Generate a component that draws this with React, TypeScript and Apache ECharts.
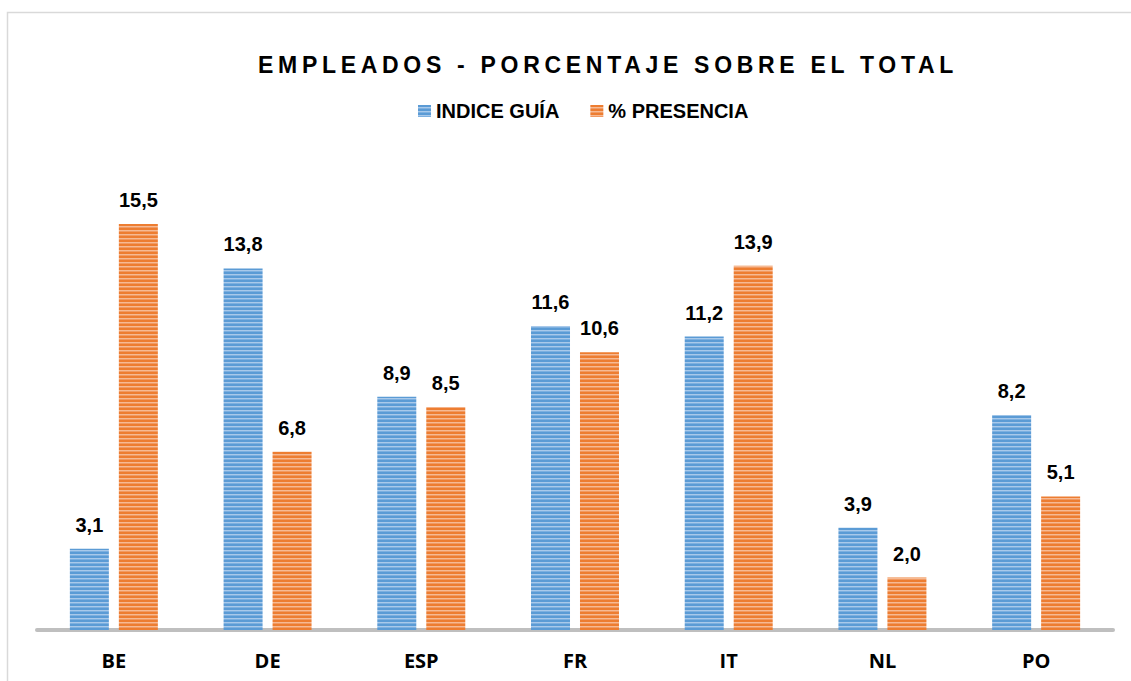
import React, { useEffect, useRef } from "react";
import * as echarts from "echarts";

const TITLE = "EMPLEADOS - PORCENTAJE SOBRE EL TOTAL";
const categories = ["BE", "DE", "ESP", "FR", "IT", "NL", "PO"];
const seriesNames = ["INDICE GUÍA", "% PRESENCIA"];
const indiceGuia = [3.1, 13.8, 8.9, 11.6, 11.2, 3.9, 8.2];
const presencia = [15.5, 6.8, 8.5, 10.6, 13.9, 2.0, 5.1];

const NARROW = "'Liberation Sans', Arial, sans-serif";

function stripes(rows: string[]): HTMLCanvasElement {
  const c = document.createElement("canvas");
  c.width = 4;
  c.height = rows.length;
  const ctx = c.getContext("2d")!;
  rows.forEach((col, i) => {
    ctx.fillStyle = col;
    ctx.fillRect(0, i, 4, 1);
  });
  return c;
}

export default function App() {
  const ref = useRef<HTMLDivElement>(null);
  useEffect(() => {
    if (!ref.current) return;
    const chart = echarts.init(ref.current, null, { renderer: "svg" });
    const bluePat = stripes(["#5B9BD5", "#5B9BD5", "#A9C9EA", "#7DB0E0"]);
    const orangePat = stripes(["#ED7D31", "#ED7D31", "#F6BA94", "#F19A62"]);
    const label = {
      show: true,
      position: "top" as const,
      distance: 14,
      fontFamily: NARROW,
      fontWeight: "bold" as const,
      fontSize: 20,
      color: "#000",
      formatter: (p: any) => Number(p.value).toFixed(1).replace(".", ","),
    };
    chart.setOption({
      animation: false,
      backgroundColor: "#fff",
      graphic: [
        {
          type: "rect",
          shape: { x: 7.5, y: 12.5, width: 1140, height: 700 },
          style: { fill: "none", stroke: "#D9D9D9", lineWidth: 1.5 },
          silent: true,
        },
        {
          type: "text",
          id: "title",
          x: 608,
          y: 65,
          style: {
            text: TITLE,
            textAlign: "center",
            textVerticalAlign: "middle",
            fontFamily: "'Liberation Sans', Arial, sans-serif",
            fontWeight: "bold",
            fontSize: 23,
            fill: "#000",
          },
        },
      ],
      legend: {
        top: 96,
        left: 413,
        itemWidth: 13,
        itemHeight: 12,
        itemGap: 31,
        icon: "rect",
        textStyle: {
          fontFamily: NARROW,
          fontWeight: "bold",
          fontSize: 20,
          color: "#000",
        },
        data: seriesNames,
      },
      grid: { left: 37, right: 18, top: 158.4, bottom: 51, containLabel: false },
      xAxis: {
        type: "category",
        data: categories,
        axisLine: { lineStyle: { color: "#BFBFBF", width: 4 } },
        axisTick: { show: false },
        axisLabel: {
          margin: 20,
          fontFamily: "'Open Sans', 'Noto Sans', sans-serif",
          fontWeight: "bold",
          fontSize: 20,
          color: "#000",
        },
      },
      yAxis: {
        type: "value",
        min: 0,
        max: 18,
        show: false,
        splitLine: { show: false },
      },
      series: [
        {
          name: seriesNames[0],
          type: "bar",
          data: indiceGuia,
          barWidth: 39,
          barGap: "25.6%",
          itemStyle: { color: { image: bluePat, repeat: "repeat" } as any },
          label,
        },
        {
          name: seriesNames[1],
          type: "bar",
          data: presencia,
          barWidth: 39,
          barGap: "25.6%",
          itemStyle: { color: { image: orangePat, repeat: "repeat" } as any },
          label,
        },
      ],
    });
    const applySpacing = () => {
      const texts = ref.current?.querySelectorAll("text") || [];
      texts.forEach((t) => {
        if (t.textContent === TITLE) (t as SVGTextElement).style.letterSpacing = "4.7px";
      });
    };
    applySpacing();
    const raf = requestAnimationFrame(applySpacing);
    const to = setTimeout(applySpacing, 50);
    return () => {
      cancelAnimationFrame(raf);
      clearTimeout(to);
      chart.dispose();
    };
  }, []);
  return (
    <div
      ref={ref}
      style={{ position: "fixed", left: 0, top: 0, width: 1131, height: 681, background: "#fff" }}
    />
  );
}
